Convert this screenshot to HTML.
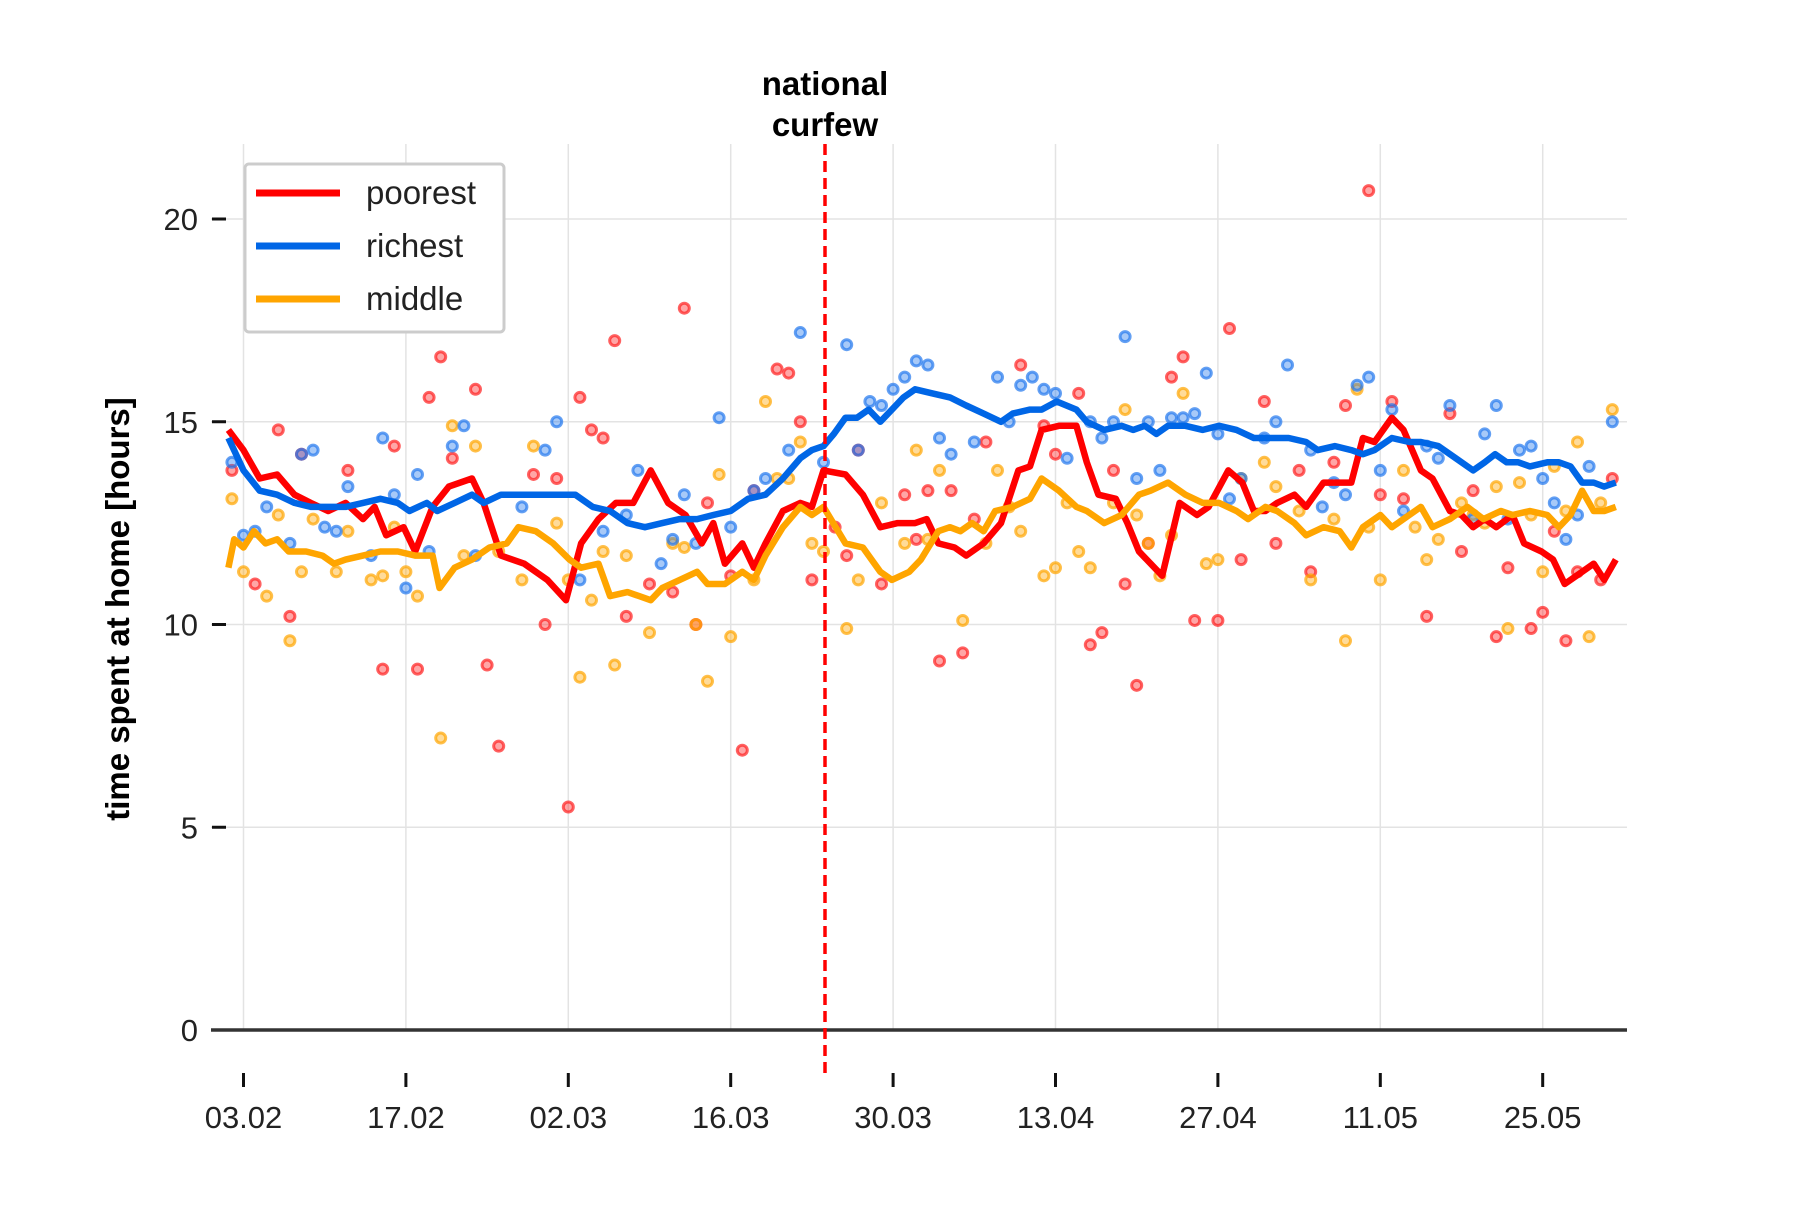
<!DOCTYPE html>
<html><head><meta charset="utf-8"><style>
html,body{margin:0;padding:0;background:#fff;}
svg text{font-family:"Liberation Sans",sans-serif;}
</style></head><body>
<svg id="chart" width="1800" height="1200" viewBox="0 0 1800 1200" xmlns="http://www.w3.org/2000/svg">
<g id="grid"></g>
<g id="axes"></g>
<g id="dots"></g>
<g id="lines"></g>
<line x1="825" y1="144" x2="825" y2="1079" stroke="#f00" stroke-width="3.5" stroke-dasharray="11,6"/>
<text x="825" y="95" text-anchor="middle" font-size="33" font-weight="bold">national</text>
<text x="825" y="136" text-anchor="middle" font-size="33" font-weight="bold">curfew</text>
<text transform="translate(129,609) rotate(-90)" text-anchor="middle" font-size="33" font-weight="bold">time spent at home [hours]</text>
<g>
<rect x="245" y="164" width="259" height="168" rx="4" fill="#fff" stroke="#ccc" stroke-width="3"/>
<line x1="256" y1="193" x2="340" y2="193" stroke="#ff0000" stroke-width="7"/>
<text x="366" y="204" font-size="33" fill="#222">poorest</text>
<line x1="256" y1="246" x2="340" y2="246" stroke="#0066e6" stroke-width="7"/>
<text x="366" y="257" font-size="33" fill="#222">richest</text>
<line x1="256" y1="299" x2="340" y2="299" stroke="#ffa500" stroke-width="7"/>
<text x="366" y="310" font-size="33" fill="#222">middle</text>
</g>
</svg>
<script>
const xTickLabels=["03.02","17.02","02.03","16.03","30.03","13.04","27.04","11.05","25.05"];
const xTickDays=[0,14,28,42,56,70,84,98,112];
const yTicks=[0,5,10,15,20];
const curfewDay=50;

const poorDays=[-1.3,0,1.4,2.9,4.4,5.8,7.3,8.8,10.3,11.3,12.3,13.8,14.8,16.3,17.7,19.7,20.7,22.2,24.2,26.2,27.8,29.1,30.6,32.1,33.6,35.1,36.6,38.1,39.5,40.5,41.5,43.0,44.0,45.0,46.5,48.0,49.0,50.0,51.9,53.4,54.9,56.4,57.9,58.9,59.9,61.3,62.3,63.8,65.3,66.8,67.8,68.8,70.3,71.8,72.7,73.7,75.2,76.2,77.2,79.2,80.7,82.2,83.2,84.9,86.1,87.1,88.1,89.1,90.6,91.6,93.1,94.5,95.5,96.5,97.5,99.0,100,101.5,102.5,104,105,106,107,108,109.4,110.4,111.9,112.9,113.9,115.4,116.4,117.3,118.3];
const poorVals=[14.8,14.3,13.6,13.7,13.2,13.0,12.8,13.0,12.6,12.9,12.2,12.4,11.8,12.9,13.4,13.6,13.0,11.7,11.5,11.1,10.6,12.0,12.6,13.0,13.0,13.8,13.0,12.7,12.0,12.5,11.5,12.0,11.4,12.0,12.8,13.0,12.9,13.8,13.7,13.2,12.4,12.5,12.5,12.6,12.0,11.9,11.7,12.0,12.5,13.8,13.9,14.8,14.9,14.9,14.0,13.2,13.1,12.5,11.8,11.2,13.0,12.7,12.9,13.8,13.5,12.8,12.8,13.0,13.2,12.9,13.5,13.5,13.5,14.6,14.5,15.1,14.8,13.8,13.6,12.8,12.7,12.4,12.6,12.4,12.7,12.0,11.8,11.6,11.0,11.3,11.5,11.1,11.6];

const richDays=[-1.3,0,1.4,2.9,4.4,5.8,7.3,8.8,10.3,11.8,13.3,14.3,15.8,16.7,18.2,19.7,20.7,22.2,23.7,25.7,27.7,28.6,30.1,31.6,33.1,34.6,36.1,37.6,39.1,40.5,42.0,43.5,45.0,46.5,48.0,49.0,50.0,50.9,51.9,52.9,53.9,54.9,55.9,56.9,57.9,59.4,60.9,62.3,63.8,65.3,66.3,67.8,68.8,70.1,71.8,72.7,74.2,75.7,76.7,77.7,78.7,79.7,81.2,82.7,84.1,85.6,87.1,88.6,90.1,91.6,92.6,94.1,95.5,96.5,97.5,99.0,100.5,101.5,103.0,104.5,106.0,107.0,107.9,108.9,109.9,110.9,112.4,113.4,114.4,115.4,116.4,117.3,118.3];
const richVals=[14.6,13.8,13.3,13.2,13.0,12.9,12.9,12.9,13.0,13.1,13.0,12.8,13.0,12.8,13.0,13.2,13.0,13.2,13.2,13.2,13.2,13.2,12.9,12.8,12.5,12.4,12.5,12.6,12.6,12.7,12.8,13.1,13.2,13.6,14.1,14.3,14.4,14.7,15.1,15.1,15.3,15.0,15.3,15.6,15.8,15.7,15.6,15.4,15.2,15.0,15.2,15.3,15.3,15.5,15.3,15.0,14.8,14.9,14.8,14.9,14.7,14.9,14.9,14.8,14.9,14.8,14.6,14.6,14.6,14.5,14.3,14.4,14.3,14.2,14.3,14.6,14.5,14.5,14.4,14.1,13.8,14.0,14.2,14.0,14.0,13.9,14.0,14.0,13.9,13.5,13.5,13.4,13.5];

const midDays=[-1.3,-0.8,0,0.9,1.9,2.9,3.9,5.4,6.8,7.8,8.8,10.3,11.8,13.3,14.8,16.3,16.9,18.2,19.7,21.2,22.7,23.7,25.2,26.7,28.1,29.1,30.6,31.6,33.1,34.1,35.1,36.1,37.6,39.1,40.0,41.5,43.0,44.0,45.0,46.5,48.0,49.0,50.0,51.9,53.4,54.9,55.9,57.4,58.4,59.9,60.9,61.8,62.8,63.8,64.8,66.3,67.8,68.8,70.3,71.8,72.7,74.2,75.7,77.2,78.2,79.7,81.2,82.7,84.1,85.6,86.6,88.1,89.1,90.6,91.6,93.1,94.5,95.5,96.5,98.0,99.0,100,101.5,102.5,104,105.5,106.9,108.4,109.4,110.9,112.4,113.4,114.4,115.4,116.4,117.3,118.3];
const midVals=[11.4,12.1,11.9,12.3,12.0,12.1,11.8,11.8,11.7,11.5,11.6,11.7,11.8,11.8,11.7,11.7,10.9,11.4,11.6,11.9,12.0,12.4,12.3,12.0,11.6,11.4,11.5,10.7,10.8,10.7,10.6,10.9,11.1,11.3,11.0,11.0,11.3,11.1,11.7,12.4,12.9,12.7,12.9,12.0,11.9,11.3,11.1,11.3,11.6,12.3,12.4,12.3,12.5,12.3,12.8,12.9,13.1,13.6,13.3,12.9,12.8,12.5,12.7,13.2,13.3,13.5,13.2,13.0,13.0,12.8,12.6,12.9,12.8,12.5,12.2,12.4,12.3,11.9,12.4,12.7,12.4,12.6,12.9,12.4,12.6,12.9,12.6,12.8,12.7,12.8,12.7,12.4,12.7,13.3,12.8,12.8,12.9];

const poorDotDays=[-1,1,3,4,5,9,12,13,15,16,17,18,20,21,22,25,26,27,28,29,30,31,32,33,35,37,38,39,40,42,43,44,46,47,48,49,51,52,53,55,57,58,59,60,61,62,63,64,67,69,70,72,73,74,75,76,77,78,80,81,82,84,85,86,88,89,91,92,94,95,97,98,99,100,102,104,105,106,108,109,111,112,113,114,115,117,118];
const poorDotVals=[13.8,11.0,14.8,10.2,14.2,13.8,8.9,14.4,8.9,15.6,16.6,14.1,15.8,9.0,7.0,13.7,10.0,13.6,5.5,15.6,14.8,14.6,17.0,10.2,11.0,10.8,17.8,10.0,13.0,11.2,6.9,13.3,16.3,16.2,15.0,11.1,12.4,11.7,14.3,11.0,13.2,12.1,13.3,9.1,13.3,9.3,12.6,14.5,16.4,14.9,14.2,15.7,9.5,9.8,13.8,11.0,8.5,12.0,16.1,16.6,10.1,10.1,17.3,11.6,15.5,12.0,13.8,11.3,14.0,15.4,20.7,13.2,15.5,13.1,10.2,15.2,11.8,13.3,9.7,11.4,9.9,10.3,12.3,9.6,11.3,11.1,13.6];
const richDotDays=[-1,0,1,2,4,5,6,7,8,9,11,12,13,14,15,16,18,19,20,24,26,27,29,31,33,34,36,37,38,39,41,42,44,45,47,48,50,52,53,54,55,56,57,58,59,60,61,63,65,66,67,68,69,70,71,73,74,75,76,77,78,79,80,81,82,83,84,85,86,88,89,90,92,93,94,95,96,97,98,99,100,102,103,104,106,107,108,109,110,111,112,113,114,115,116,118];
const richDotVals=[14.0,12.2,12.3,12.9,12.0,14.2,14.3,12.4,12.3,13.4,11.7,14.6,13.2,10.9,13.7,11.8,14.4,14.9,11.7,12.9,14.3,15.0,11.1,12.3,12.7,13.8,11.5,12.1,13.2,12.0,15.1,12.4,13.3,13.6,14.3,17.2,14.0,16.9,14.3,15.5,15.4,15.8,16.1,16.5,16.4,14.6,14.2,14.5,16.1,15.0,15.9,16.1,15.8,15.7,14.1,15.0,14.6,15.0,17.1,13.6,15.0,13.8,15.1,15.1,15.2,16.2,14.7,13.1,13.6,14.6,15.0,16.4,14.3,12.9,13.5,13.2,15.9,16.1,13.8,15.3,12.8,14.4,14.1,15.4,12.6,14.7,15.4,12.6,14.3,14.4,13.6,13.0,12.1,12.7,13.9,15.0];
const midDotDays=[-1,0,2,3,4,5,6,8,9,11,12,13,14,15,17,18,19,20,22,24,25,27,28,29,30,31,32,33,35,37,38,39,40,41,42,44,45,46,47,48,49,50,52,53,55,57,58,59,60,62,64,65,66,67,69,70,71,72,73,75,76,77,78,79,80,81,83,84,86,88,89,91,92,94,95,96,97,98,100,101,102,103,105,106,107,108,109,110,111,112,113,114,115,116,117,118];
const midDotVals=[13.1,11.3,10.7,12.7,9.6,11.3,12.6,11.3,12.3,11.1,11.2,12.4,11.3,10.7,7.2,14.9,11.7,14.4,11.8,11.1,14.4,12.5,11.1,8.7,10.6,11.8,9.0,11.7,9.8,12.0,11.9,10.0,8.6,13.7,9.7,11.1,15.5,13.6,13.6,14.5,12.0,11.8,9.9,11.1,13.0,12.0,14.3,12.1,13.8,10.1,12.0,13.8,12.9,12.3,11.2,11.4,13.0,11.8,11.4,13.0,15.3,12.7,12.0,11.2,12.2,15.7,11.5,11.6,13.6,14.0,13.4,12.8,11.1,12.6,9.6,15.8,12.4,11.1,13.8,12.4,11.6,12.1,13.0,12.7,12.5,13.4,9.9,13.5,12.7,11.3,13.9,12.8,14.5,9.7,13.0,15.3];

const NS="http://www.w3.org/2000/svg";
function xs(d){return 243.5+d*11.6;}
function ys(v){return 1030-v*40.55;}
function mk(tag,attrs,parent){const e=document.createElementNS(NS,tag);for(const k in attrs)e.setAttribute(k,attrs[k]);parent.appendChild(e);return e;}
const grid=document.getElementById('grid'),axes=document.getElementById('axes'),dots=document.getElementById('dots'),lines=document.getElementById('lines');

xTickDays.forEach((d,i)=>{
  const g=mk('line',{x1:xs(d),x2:xs(d),y1:144,y2:1030,stroke:'#e3e3e3','stroke-width':1.5},grid);
  
  
  const t=mk('line',{x1:xs(d),x2:xs(d),y1:1073,y2:1087,stroke:'#111','stroke-width':3},axes);
  
  
  const l=mk('text',{x:xs(d),y:1128,'text-anchor':'middle','font-size':31,fill:'#222'},axes);
  l.textContent=xTickLabels[i];
  
  
});
yTicks.forEach(v=>{
  if(v>0){const g=mk('line',{x1:211,x2:1627,y1:ys(v),y2:ys(v),stroke:'#e3e3e3','stroke-width':1.5},grid);
  
  }
  const t=mk('line',{x1:212,x2:226,y1:ys(v),y2:ys(v),stroke:'#111','stroke-width':3},axes);
  
  
  const l=mk('text',{x:198,y:ys(v)+11,'text-anchor':'end','font-size':31,fill:'#222'},axes);
  l.textContent=v;
  
  
});
const zl=mk('line',{x1:211,x2:1627,y1:ys(0),y2:ys(0),stroke:'#333','stroke-width':3.5},axes);



function drawDots(days,vals,color,name){
  days.forEach((d,i)=>{
    const c=mk('circle',{cx:xs(d),cy:ys(vals[i]),r:5,fill:color,'fill-opacity':0.4,stroke:color,'stroke-opacity':0.7,'stroke-width':3},dots);
    
    
  });
}
drawDots(poorDotDays,poorDotVals,'#ff2020','point-poorest');
drawDots(midDotDays,midDotVals,'#ffa500','point-middle');
drawDots(richDotDays,richDotVals,'#2277ee','point-richest');

function drawLine(days,vals,color,name){
  const p=mk('polyline',{points:days.map((d,i)=>xs(d).toFixed(1)+','+ys(vals[i]).toFixed(1)).join(' '),fill:'none',stroke:color,'stroke-width':6.5,'stroke-linejoin':'round'},lines);
  
  
}
drawLine(poorDays,poorVals,'#ff0000','line-poorest');
drawLine(midDays,midVals,'#ffa500','line-middle');
drawLine(richDays,richVals,'#0066e6','line-richest');
</script>
</body></html>
